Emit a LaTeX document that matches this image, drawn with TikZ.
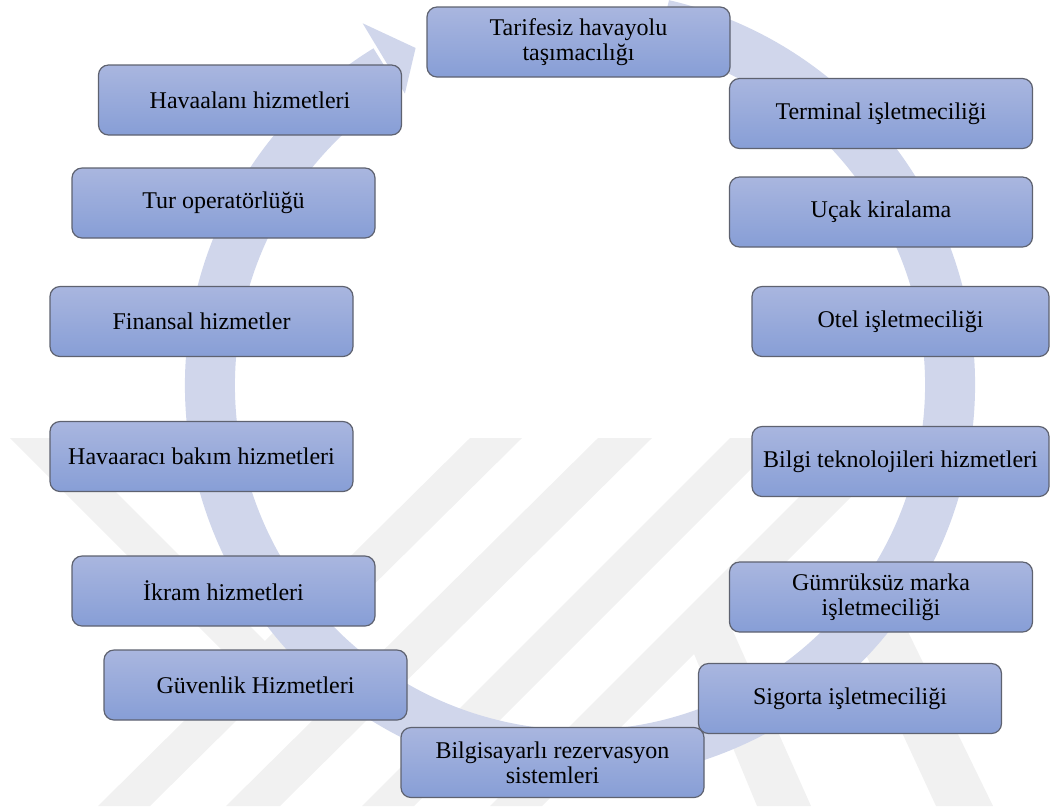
\documentclass[tikz,border=0pt]{standalone}
\usepackage{fontspec}
\setmainfont{Liberation Serif}
\newfontfamily\svfont{Liberation Serif}
\usetikzlibrary{positioning}
\definecolor{SVTop}{HTML}{A9B6DF}
\definecolor{SVBottom}{HTML}{879ED6}
\definecolor{SVEdge}{HTML}{5E6270}
\definecolor{SVRing}{HTML}{D0D6EB}
\definecolor{SVMark}{HTML}{F1F1F1}
\begin{document}
\begin{tikzpicture}[x=0.5pt,y=-0.5pt]
\tikzset{svc/.style={draw=SVEdge,line width=0.6pt,top color=SVTop,bottom color=SVBottom,rounded corners=5pt,minimum width=151.5pt,minimum height=35pt,align=center,inner sep=2pt,font=\svfont\fontsize{12}{12.5}\selectfont},ring/.style={SVRing}}
\useasboundingbox (0,0) rectangle (1050,811);
% watermark stripes
\fill[SVMark] (470,438) -- (522,438) -- (150,806) -- (98,806) -- cycle;
\fill[SVMark] (598,438) -- (652,438) -- (280,806) -- (226,806) -- cycle;
\fill[SVMark] (730,438) -- (782,438) -- (414,806) -- (362,806) -- cycle;
\fill[SVMark] (858,438) -- (910,438) -- (542,806) -- (490,806) -- cycle;
\fill[SVMark] (10,438) -- (62,438) -- (292,668) -- (266,694) -- cycle;
\fill[SVMark] (680,620) -- (728,620) -- (811,806) -- (757,806) -- cycle;
\fill[SVMark] (823,562) -- (874,562) -- (993,806) -- (936,806) -- cycle;
% cycle arrow
\coordinate (ctr) at (580,385);
\draw[ring,line width=25pt] (ctr) ++(77:185pt) arc[start angle=77,end angle=-238.5,radius=185pt];
\path (ctr) ++(121:211pt) coordinate (hdA);
\path (ctr) ++(116:187.5pt) coordinate (hdT);
\path (ctr) ++(121:170pt) coordinate (hdB);
\fill[ring] (hdA) -- (hdT) -- (hdB) -- cycle;
% services
\node[svc] (tarifesiz) at (578.5,42) {Tarifesiz havayolu\\taşımacılığı};
\node[svc] (terminal) at (881,113.5) {Terminal işletmeciliği};
\node[svc] (ucak) at (881,212) {Uçak kiralama};
\node[svc,minimum width=148.5pt] (otel) at (900.5,321.5) {Otel işletmeciliği};
\node[svc,minimum width=148.5pt] (bilgi) at (900.5,461.5) {Bilgi teknolojileri hizmetleri};
\node[svc] (gumruk) at (881,597) {Gümrüksüz marka\\işletmeciliği};
\node[svc] (sigorta) at (850,698.5) {Sigorta işletmeciliği};
\node[svc] (rezerv) at (552.5,762.5) {Bilgisayarlı rezervasyon\\sistemleri};
\node[svc] (guvenlik) at (255.5,685) {Güvenlik Hizmetleri};
\node[svc] (ikram) at (223.5,591) {İkram hizmetleri};
\node[svc] (bakim) at (201.5,456.5) {Havaaracı bakım hizmetleri};
\node[svc] (finans) at (201.5,321.5) {Finansal hizmetler};
\node[svc] (tur) at (223.5,203) {Tur operatörlüğü};
\node[svc] (havaalani) at (250,100) {Havaalanı hizmetleri};
\end{tikzpicture}
\end{document}
